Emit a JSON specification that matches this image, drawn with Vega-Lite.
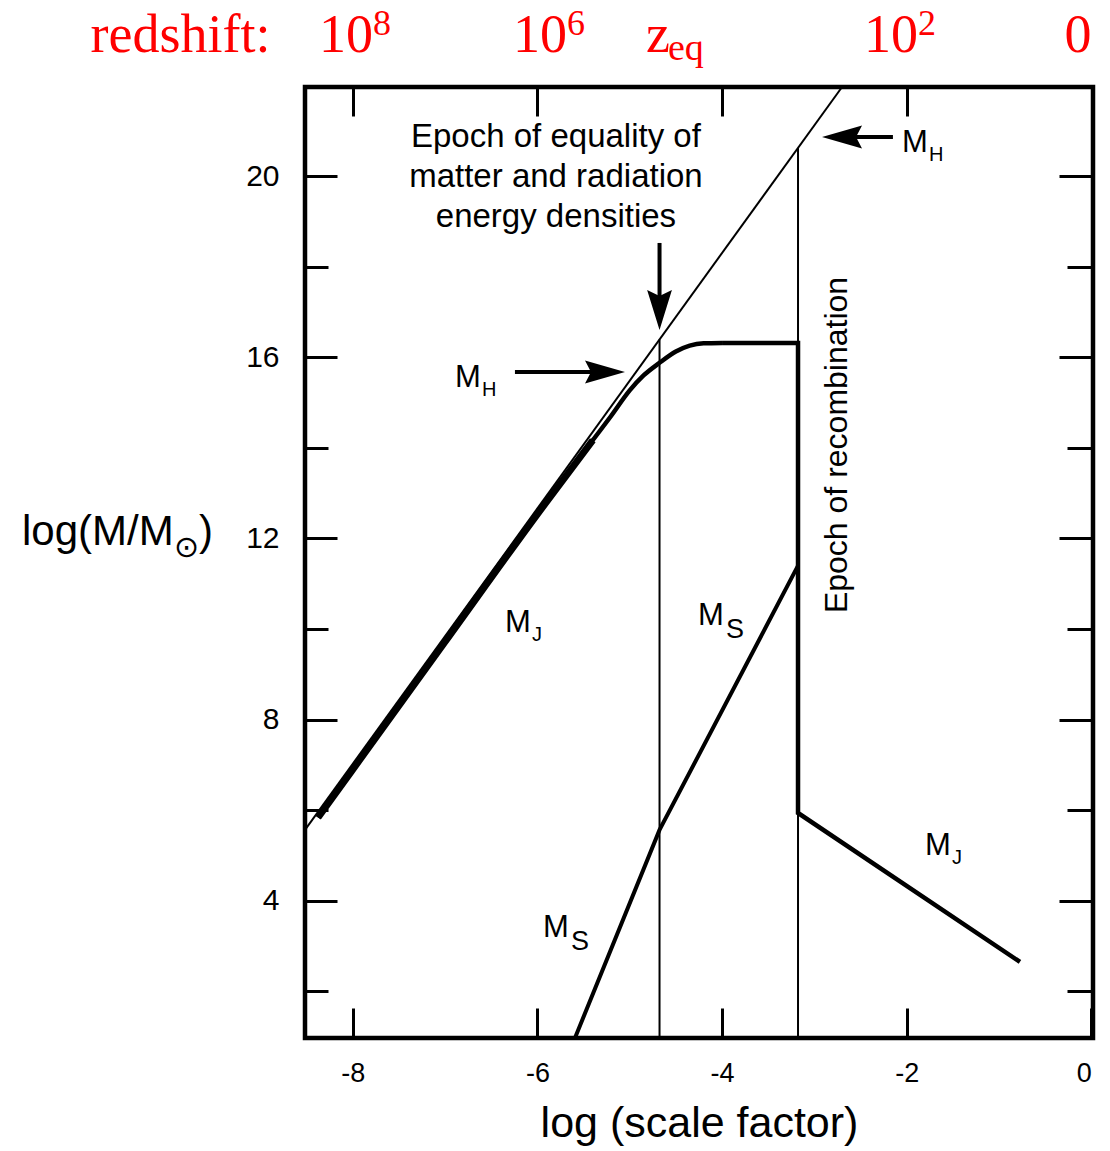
{
  "$schema": "https://vega.github.io/schema/vega-lite/v6.json",
  "width": 788,
  "height": 951,
  "autosize": {"type": "none"},
  "padding": {"left": 305, "top": 87, "right": 17, "bottom": 113},
  "background": "white",
  "config": {
    "view": {"stroke": "black", "strokeWidth": 4.5},
    "font": "Liberation Sans"
  },
  "datasets": {
    "mh": [{"x": -8.517, "y": 5.565}, {"x": -2.70, "y": 21.97}],
    "verts": [{"x": -4.677, "y": 0.97, "y2": 16.394}, {"x": -3.177, "y": 0.97, "y2": 20.623}],
    "mjcurve": [
      {"x": -8.376, "y": 5.84, "phase": "early"},
      {"x": -7.0, "y": 9.72, "phase": "early"},
      {"x": -6.0, "y": 12.54, "phase": "early"},
      {"x": -5.4, "y": 14.17, "phase": "early"},
      {"x": -5.2, "y": 14.71, "phase": "late"},
      {"x": -5.0, "y": 15.27, "phase": "late"},
      {"x": -4.85, "y": 15.60, "phase": "late"},
      {"x": -4.677, "y": 15.88, "phase": "late"},
      {"x": -4.5, "y": 16.13, "phase": "late"},
      {"x": -4.35, "y": 16.26, "phase": "late"},
      {"x": -4.2, "y": 16.31, "phase": "late"},
      {"x": -4.0, "y": 16.317, "phase": "late"}
    ],
    "mjpost": [
      {"x": -4.0, "y": 16.317, "i": 0},
      {"x": -3.177, "y": 16.317, "i": 1},
      {"x": -3.177, "y": 5.94, "i": 2},
      {"x": -0.773, "y": 2.65, "i": 3}
    ],
    "ms": [{"x": -5.593, "y": 0.97}, {"x": -4.677, "y": 5.565}, {"x": -3.177, "y": 11.40}],
    "arrows": [
      {"dir": "down", "sx": -4.677, "sy": 18.526, "ex": -4.677, "ey": 17.3, "x": -4.677, "y": 16.605},
      {"dir": "right", "sx": -6.243, "sy": 15.677, "ex": -5.376, "ey": 15.677, "x": -5.051, "y": 15.677},
      {"dir": "left", "sx": -2.149, "sy": 20.866, "ex": -2.614, "ey": 20.866, "x": -2.917, "y": 20.866}
    ],
    "mlab": [
      {"x": -6.351, "y": 9.936, "sub": "J"},
      {"x": -4.261, "y": 10.091, "sub": "S"},
      {"x": -5.939, "y": 3.202, "sub": "S"},
      {"x": -1.802, "y": 5.013, "sub": "J"},
      {"x": -6.892, "y": 15.346, "sub": "H"},
      {"x": -2.051, "y": 20.535, "sub": "H"}
    ],
    "noteeq": [{"x": -5.799, "y": 20.866, "t": "Epoch of equality of\nmatter and radiation\nenergy densities"}],
    "noterec": [{"x": -2.755, "y": 14.065, "t": "Epoch of recombination"}],
    "red": [
      {"x": -9.865, "t": "redshift:"},
      {"x": -8.073, "t": "10", "sup": "8"},
      {"x": -5.972, "t": "10", "sup": "6"},
      {"x": -4.694, "t": "z", "sub": "eq"},
      {"x": -2.170, "t": "10", "sup": "2"},
      {"x": -0.145, "t": "0"}
    ],
    "ytitle": [{"x": -11.582, "y": 11.857}]
  },
  "resolve": {"axis": {"x": "independent", "y": "independent"}},
  "layer": [
    {
      "data": {"name": "mh"},
      "mark": {"type": "line", "color": "black", "strokeWidth": 2},
      "encoding": {
        "x": {"field": "x", "type": "quantitative", "scale": {"domain": [-8.517, 0.018], "nice": false, "zero": false},
          "axis": {"orient": "bottom", "values": [-8, -6, -4, -2, 0], "tickSize": -30, "tickWidth": 3, "tickColor": "black", "domain": false, "grid": false,
            "labelFont": "Liberation Sans", "labelFontSize": 27, "labelColor": "black", "labelPadding": 52, "labelFlush": 5, "labelOverlap": false,
            "labelExpr": "datum.value < 0 ? '-' + (-datum.value) : '' + datum.value",
            "title": "log (scale factor)", "titleFont": "Liberation Sans", "titleFontSize": 43, "titleFontWeight": "normal", "titleColor": "black",
            "titleBaseline": "alphabetic", "titleY": 98}},
        "y": {"field": "y", "type": "quantitative", "scale": {"domain": [0.97, 21.97], "nice": false, "zero": false},
          "axis": {"orient": "left", "values": [2, 4, 6, 8, 10, 12, 14, 16, 18, 20],
            "tickSize": {"condition": {"test": "datum.value % 4 === 0", "value": -32}, "value": -23},
            "tickWidth": 3, "tickColor": "black", "domain": false, "grid": false,
            "labelFont": "Liberation Sans", "labelFontSize": 30, "labelColor": "black", "labelPadding": 58, "labelOverlap": false, "labelFlush": false,
            "labelExpr": "datum.value % 4 === 0 ? datum.label : ''", "title": null}}
      }
    },
    {
      "data": {"name": "verts"},
      "mark": {"type": "rule", "color": "black", "strokeWidth": 2},
      "encoding": {
        "x": {"field": "x", "type": "quantitative", "scale": {"domain": [-8.517, 0.018], "nice": false, "zero": false},
          "axis": {"orient": "top", "values": [-8, -6, -4, -2], "tickSize": -29, "tickWidth": 3, "tickColor": "black", "domain": false, "grid": false, "labels": false, "title": null}},
        "y": {"field": "y", "type": "quantitative", "scale": {"domain": [0.97, 21.97], "nice": false, "zero": false},
          "axis": {"orient": "right", "values": [2, 4, 6, 8, 10, 12, 14, 16, 18, 20],
            "tickSize": {"condition": {"test": "datum.value % 4 === 0", "value": -34}, "value": -26},
            "tickWidth": 3, "tickColor": "black", "domain": false, "grid": false, "labels": false, "title": null}},
        "y2": {"field": "y2"}
      }
    },
    {
      "data": {"name": "mjcurve"},
      "mark": {"type": "line", "color": "black", "strokeWidth": 4.5, "interpolate": "monotone"},
      "encoding": {
        "x": {"field": "x", "type": "quantitative", "scale": {"domain": [-8.517, 0.018], "nice": false, "zero": false}, "axis": null},
        "y": {"field": "y", "type": "quantitative", "scale": {"domain": [0.97, 21.97], "nice": false, "zero": false}, "axis": null}
      }
    },
    {
      "data": {"name": "mjcurve"},
      "transform": [{"filter": "datum.phase === 'early'"}],
      "mark": {"type": "line", "color": "black", "strokeWidth": 7, "interpolate": "monotone"},
      "encoding": {
        "x": {"field": "x", "type": "quantitative", "scale": {"domain": [-8.517, 0.018], "nice": false, "zero": false}, "axis": null},
        "y": {"field": "y", "type": "quantitative", "scale": {"domain": [0.97, 21.97], "nice": false, "zero": false}, "axis": null}
      }
    },
    {
      "data": {"name": "mjpost"},
      "mark": {"type": "line", "color": "black", "strokeWidth": 4.5},
      "encoding": {
        "x": {"field": "x", "type": "quantitative", "scale": {"domain": [-8.517, 0.018], "nice": false, "zero": false}, "axis": null},
        "y": {"field": "y", "type": "quantitative", "scale": {"domain": [0.97, 21.97], "nice": false, "zero": false}, "axis": null},
        "order": {"field": "i", "type": "quantitative"}
      }
    },
    {
      "data": {"name": "ms"},
      "mark": {"type": "line", "color": "black", "strokeWidth": 4},
      "encoding": {
        "x": {"field": "x", "type": "quantitative", "scale": {"domain": [-8.517, 0.018], "nice": false, "zero": false}, "axis": null},
        "y": {"field": "y", "type": "quantitative", "scale": {"domain": [0.97, 21.97], "nice": false, "zero": false}, "axis": null}
      }
    },
    {
      "data": {"name": "arrows"},
      "mark": {"type": "rule", "color": "black", "strokeWidth": 4},
      "encoding": {
        "x": {"field": "sx", "type": "quantitative", "scale": {"domain": [-8.517, 0.018], "nice": false, "zero": false}, "axis": null},
        "y": {"field": "sy", "type": "quantitative", "scale": {"domain": [0.97, 21.97], "nice": false, "zero": false}, "axis": null},
        "x2": {"field": "ex"},
        "y2": {"field": "ey"}
      }
    },
    {
      "data": {"name": "arrows"},
      "mark": {"type": "point", "filled": true, "size": 1600, "color": "black", "opacity": 1, "strokeWidth": 0},
      "encoding": {
        "x": {"field": "x", "type": "quantitative", "scale": {"domain": [-8.517, 0.018], "nice": false, "zero": false}, "axis": null},
        "y": {"field": "y", "type": "quantitative", "scale": {"domain": [0.97, 21.97], "nice": false, "zero": false}, "axis": null},
        "shape": {"field": "dir", "type": "nominal", "legend": null,
          "scale": {"domain": ["down", "right", "left"], "range": ["M0,0L-0.62,-2L0,-1.7L0.62,-2Z", "M0,0L-2,-0.58L-1.7,0L-2,0.58Z", "M0,0L2,-0.58L1.7,0L2,0.58Z"]}}
      }
    },
    {
      "data": {"name": "mlab"},
      "mark": {"type": "text", "text": "M", "font": "Liberation Sans", "fontSize": 31, "align": "left", "baseline": "alphabetic", "color": "black", "clip": false},
      "encoding": {
        "x": {"field": "x", "type": "quantitative", "scale": {"domain": [-8.517, 0.018], "nice": false, "zero": false}, "axis": null},
        "y": {"field": "y", "type": "quantitative", "scale": {"domain": [0.97, 21.97], "nice": false, "zero": false}, "axis": null}
      }
    },
    {
      "data": {"name": "mlab"},
      "transform": [{"filter": "datum.sub !== 'S'"}],
      "mark": {"type": "text", "font": "Liberation Sans", "fontSize": 20, "align": "left", "baseline": "alphabetic", "color": "black", "dx": 27, "dy": 9, "clip": false},
      "encoding": {
        "x": {"field": "x", "type": "quantitative", "scale": {"domain": [-8.517, 0.018], "nice": false, "zero": false}, "axis": null},
        "y": {"field": "y", "type": "quantitative", "scale": {"domain": [0.97, 21.97], "nice": false, "zero": false}, "axis": null},
        "text": {"field": "sub", "type": "nominal"}
      }
    },
    {
      "data": {"name": "mlab"},
      "transform": [{"filter": "datum.sub === 'S'"}],
      "mark": {"type": "text", "font": "Liberation Sans", "fontSize": 27, "align": "left", "baseline": "alphabetic", "color": "black", "dx": 28, "dy": 13, "clip": false},
      "encoding": {
        "x": {"field": "x", "type": "quantitative", "scale": {"domain": [-8.517, 0.018], "nice": false, "zero": false}, "axis": null},
        "y": {"field": "y", "type": "quantitative", "scale": {"domain": [0.97, 21.97], "nice": false, "zero": false}, "axis": null},
        "text": {"field": "sub", "type": "nominal"}
      }
    },
    {
      "data": {"name": "noteeq"},
      "mark": {"type": "text", "font": "Liberation Sans", "fontSize": 33, "align": "center", "baseline": "middle", "lineBreak": "\n", "lineHeight": 40, "color": "black", "clip": false},
      "encoding": {
        "x": {"field": "x", "type": "quantitative", "scale": {"domain": [-8.517, 0.018], "nice": false, "zero": false}, "axis": null},
        "y": {"field": "y", "type": "quantitative", "scale": {"domain": [0.97, 21.97], "nice": false, "zero": false}, "axis": null},
        "text": {"field": "t", "type": "nominal"}
      }
    },
    {
      "data": {"name": "noterec"},
      "mark": {"type": "text", "font": "Liberation Sans", "fontSize": 32, "align": "center", "baseline": "middle", "angle": 270, "color": "black", "clip": false},
      "encoding": {
        "x": {"field": "x", "type": "quantitative", "scale": {"domain": [-8.517, 0.018], "nice": false, "zero": false}, "axis": null},
        "y": {"field": "y", "type": "quantitative", "scale": {"domain": [0.97, 21.97], "nice": false, "zero": false}, "axis": null},
        "text": {"field": "t", "type": "nominal"}
      }
    },
    {
      "data": {"name": "red"},
      "mark": {"type": "text", "font": "Liberation Serif", "fontSize": 54, "align": "center", "baseline": "alphabetic", "color": "#ff0000", "clip": false},
      "encoding": {
        "x": {"field": "x", "type": "quantitative", "scale": {"domain": [-8.517, 0.018], "nice": false, "zero": false}, "axis": null},
        "y": {"datum": 22.743, "type": "quantitative", "scale": {"domain": [0.97, 21.97], "nice": false, "zero": false}, "axis": null},
        "text": {"field": "t", "type": "nominal"}
      }
    },
    {
      "data": {"name": "red"},
      "transform": [{"filter": "datum.sup"}],
      "mark": {"type": "text", "font": "Liberation Serif", "fontSize": 36, "align": "left", "baseline": "alphabetic", "color": "#ff0000", "dx": 27, "dy": -17, "clip": false},
      "encoding": {
        "x": {"field": "x", "type": "quantitative", "scale": {"domain": [-8.517, 0.018], "nice": false, "zero": false}, "axis": null},
        "y": {"datum": 22.743, "type": "quantitative", "scale": {"domain": [0.97, 21.97], "nice": false, "zero": false}, "axis": null},
        "text": {"field": "sup", "type": "nominal"}
      }
    },
    {
      "data": {"name": "red"},
      "transform": [{"filter": "datum.sub"}],
      "mark": {"type": "text", "font": "Liberation Serif", "fontSize": 38, "align": "left", "baseline": "alphabetic", "color": "#ff0000", "dx": 10, "dy": 8, "clip": false},
      "encoding": {
        "x": {"field": "x", "type": "quantitative", "scale": {"domain": [-8.517, 0.018], "nice": false, "zero": false}, "axis": null},
        "y": {"datum": 22.743, "type": "quantitative", "scale": {"domain": [0.97, 21.97], "nice": false, "zero": false}, "axis": null},
        "text": {"field": "sub", "type": "nominal"}
      }
    },
    {
      "data": {"name": "ytitle"},
      "mark": {"type": "text", "text": "log(M/M", "font": "Liberation Sans", "fontSize": 42, "align": "left", "baseline": "alphabetic", "color": "black", "clip": false},
      "encoding": {
        "x": {"field": "x", "type": "quantitative", "scale": {"domain": [-8.517, 0.018], "nice": false, "zero": false}, "axis": null},
        "y": {"field": "y", "type": "quantitative", "scale": {"domain": [0.97, 21.97], "nice": false, "zero": false}, "axis": null}
      }
    },
    {
      "data": {"name": "ytitle"},
      "mark": {"type": "text", "text": "⊙", "font": "DejaVu Sans", "fontSize": 30, "align": "left", "baseline": "alphabetic", "color": "black", "dx": 152, "dy": 12, "clip": false},
      "encoding": {
        "x": {"field": "x", "type": "quantitative", "scale": {"domain": [-8.517, 0.018], "nice": false, "zero": false}, "axis": null},
        "y": {"field": "y", "type": "quantitative", "scale": {"domain": [0.97, 21.97], "nice": false, "zero": false}, "axis": null}
      }
    },
    {
      "data": {"name": "ytitle"},
      "mark": {"type": "text", "text": ")", "font": "Liberation Sans", "fontSize": 42, "align": "left", "baseline": "alphabetic", "color": "black", "dx": 177, "clip": false},
      "encoding": {
        "x": {"field": "x", "type": "quantitative", "scale": {"domain": [-8.517, 0.018], "nice": false, "zero": false}, "axis": null},
        "y": {"field": "y", "type": "quantitative", "scale": {"domain": [0.97, 21.97], "nice": false, "zero": false}, "axis": null}
      }
    }
  ]
}
